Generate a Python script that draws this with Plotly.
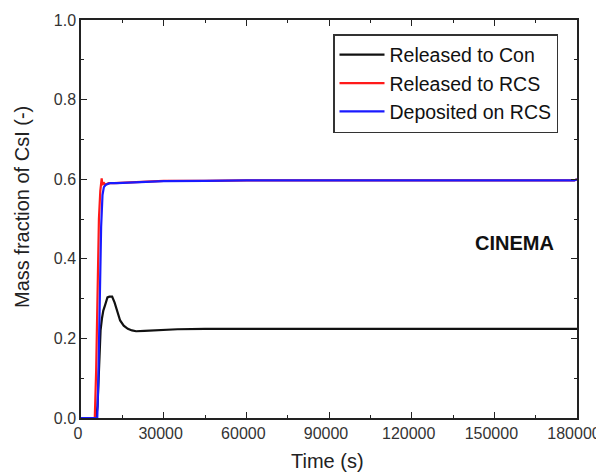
import plotly.graph_objects as go

# Data
t_con = [0, 5500, 6000, 6600, 7100, 7600, 8100, 8800, 9600, 10300, 11300, 12200, 13200, 14200, 15500, 17000, 18500, 20000, 23000, 28000, 35000, 45000, 60000, 90000, 120000, 150000, 180000]
y_con = [0, 0, 0.03, 0.15, 0.22, 0.25, 0.27, 0.285, 0.303, 0.305, 0.305, 0.29, 0.265, 0.245, 0.232, 0.224, 0.220, 0.218, 0.219, 0.221, 0.223, 0.224, 0.224, 0.224, 0.224, 0.224, 0.224]

t_rcs = [0, 5000, 5500, 6000, 6500, 7000, 7300, 7500, 7800, 8200, 8800, 10000, 12000, 15000, 20000, 25000, 30000, 45000, 60000, 90000, 120000, 150000, 179000, 180000]
y_rcs = [0, 0, 0.12, 0.35, 0.5, 0.57, 0.59, 0.602, 0.585, 0.592, 0.586, 0.590, 0.590, 0.591, 0.593, 0.595, 0.596, 0.596, 0.597, 0.597, 0.597, 0.597, 0.597, 0.600]

t_dep = [0, 5900, 6300, 6800, 7300, 7800, 8300, 9000, 10500, 13000, 17000, 22000, 30000, 45000, 60000, 90000, 120000, 150000, 179000, 180000]
y_dep = [0, 0, 0.1, 0.3, 0.48, 0.56, 0.58, 0.586, 0.590, 0.590, 0.591, 0.593, 0.595, 0.596, 0.597, 0.597, 0.597, 0.597, 0.597, 0.600]

names = ["Released to Con", "Released to RCS", "Deposited on RCS"]
colors = ["#111111", "#ff1a1a", "#1a1aff"]

x_ticks = [0, 30000, 60000, 90000, 120000, 150000, 180000]
y_ticks = [0.0, 0.2, 0.4, 0.6, 0.8, 1.0]

FONT = "Liberation Sans, Arial, sans-serif"

# page body has an 8px margin; plot area in page pixels: x 81-577, y 20-418
PL, PR, PT, PB = 81, 577, 20, 418
OFF = 8
PW, PH = PR - PL, PB - PT
FIG_W, FIG_H = 604 - OFF, 476 - OFF

fig = go.Figure()
for (tx, ty), name, col in zip([(t_con, y_con), (t_rcs, y_rcs), (t_dep, y_dep)], names, colors):
    fig.add_trace(go.Scatter(x=tx, y=ty, mode="lines", name=name,
                             line=dict(color=col, width=2.2)))

axis_common = dict(
    showline=True, linecolor="#222222", linewidth=1.5, mirror="ticks",
    ticks="inside", ticklen=6, tickwidth=1.2, tickcolor="#222222",
    showgrid=False, zeroline=False, automargin=False,
    ticklabeloverflow="allow",
    tickfont=dict(family=FONT, size=16, color="#333333"),
)

fig.update_xaxes(**axis_common, range=[0, 180000], tickvals=x_ticks,
                 ticktext=[str(v) for v in x_ticks], ticklabelshift=-3,
                 minor=dict(ticks="inside", ticklen=3, tickcolor="#222222", dtick=15000, tick0=0))
fig.update_yaxes(**axis_common, range=[0, 1.0], tickvals=y_ticks,
                 ticktext=[f"{v:.1f}" for v in y_ticks],
                 minor=dict(ticks="inside", ticklen=3, tickcolor="#222222", dtick=0.1, tick0=0))

def px(x):
    return (x - PL) / PW

def py(y):
    return (PB - y) / PH

# Axis titles
fig.add_annotation(x=px(327), y=py(461), xref="paper", yref="paper",
                   text="Time (s)", showarrow=False, xanchor="center", yanchor="middle",
                   font=dict(family=FONT, size=20, color="#222222"))
fig.add_annotation(x=px(22), y=py(207), xref="paper", yref="paper",
                   text="Mass fraction of CsI (-)", showarrow=False, textangle=-90,
                   xanchor="center", yanchor="middle",
                   font=dict(family=FONT, size=20, color="#222222"))

fig.add_annotation(x=px(556), y=py(243), xref="paper", yref="paper",
                   text="<b>CINEMA</b>", showarrow=False, xanchor="right", yanchor="middle",
                   font=dict(family=FONT, size=20, color="#111111"))

fig.update_layout(
    width=FIG_W, height=FIG_H,
    margin=dict(l=PL - OFF, r=FIG_W - (PR - OFF), t=PT - OFF, b=FIG_H - (PB - OFF)),
    paper_bgcolor="white", plot_bgcolor="white",
    showlegend=True,
    legend=dict(x=px(333), y=py(34), xanchor="left", yanchor="top",
                bgcolor="white", bordercolor="#333333", borderwidth=1.5,
                font=dict(family=FONT, size=19.5, color="#111111"),
                itemwidth=45, tracegroupgap=0),
)

fig.write_html("out.html")
